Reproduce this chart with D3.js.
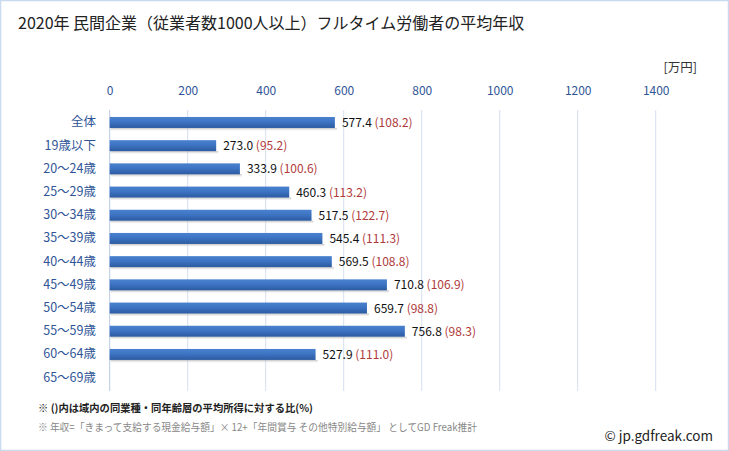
<!DOCTYPE html>
<html><head><meta charset="utf-8">
<script src="https://cdn.jsdelivr.net/npm/d3@7"></script>
<style>body{margin:0;background:#fff}svg{display:block}</style>
</head><body>
<script>
const categories = ["全体","19歳以下","20～24歳","25～29歳","30～34歳","35～39歳","40～44歳","45～49歳","50～54歳","55～59歳","60～64歳","65～69歳"];
const values = [577.4,273.0,333.9,460.3,517.5,545.4,569.5,710.8,659.7,756.8,527.9,null];
const ratios = [108.2,95.2,100.6,113.2,122.7,111.3,108.8,106.9,98.8,98.3,111.0,null];
const ticks = [0,200,400,600,800,1000,1200,1400];
const title = "2020年 民間企業（従業者数1000人以上）フルタイム労働者の平均年収";
const unit = "[万円]";
const note1 = "※ ()内は域内の同業種・同年齢層の平均所得に対する比(%)";
const note2 = "※ 年収=「きまって支給する現金給与額」× 12+「年間賞与 その他特別給与額」 としてGD Freak推計";
const credit = "© jp.gdfreak.com";

const W=729,H=451;
const font = "'Noto Sans CJK JP','Noto Sans',sans-serif";
const svg = d3.select("body").append("svg").attr("width",W).attr("height",H);
const defs = svg.append("defs");
const g1 = defs.append("linearGradient").attr("id","bar").attr("x1",0).attr("y1",0).attr("x2",0).attr("y2",1);
g1.append("stop").attr("offset","0").attr("stop-color","#4a82cf");
g1.append("stop").attr("offset","0.45").attr("stop-color","#3d74c3");
g1.append("stop").attr("offset","1").attr("stop-color","#2c5aa0");
const sh = defs.append("linearGradient").attr("id","sh").attr("x1",0).attr("y1",0).attr("x2",0).attr("y2",1);
sh.append("stop").attr("offset","0").attr("stop-color","#999").attr("stop-opacity",0.6);
sh.append("stop").attr("offset","1").attr("stop-color","#ccc").attr("stop-opacity",0);

svg.append("rect").attr("x",0.5).attr("y",0.5).attr("width",W-1).attr("height",H-1)
  .attr("fill","#fff").attr("stroke","#c9d9ee").attr("stroke-width",1.5);

svg.append("text").attr("x",18).attr("y",29).attr("font-family",font).attr("font-size",16)
  .attr("fill","#222").text(title);

const x = d3.scaleLinear().domain([0,1400]).range([109.7,655.7]);
const y = d3.scaleBand().domain(categories).range([110,390.1]).paddingInner(0.526).paddingOuter(0.3);

// gridlines
svg.append("g").selectAll("line").data(ticks).join("line")
  .attr("x1",d=>x(d)).attr("x2",d=>x(d)).attr("y1",110).attr("y2",391)
  .attr("stroke",d=>d===0?"#b9cbe4":"#d3dff0").attr("stroke-width",1);

// axis
const axis = d3.axisTop(x).tickValues(ticks).tickFormat(d3.format("d")).tickSize(0).tickPadding(0);
const ag = svg.append("g").attr("transform","translate(0,95)").call(axis);
ag.select(".domain").remove();
ag.selectAll("text").attr("font-family",font).attr("font-size",12).attr("fill","#2f5597");

svg.append("text").attr("x",697).attr("y",72).attr("text-anchor","end")
  .attr("font-family",font).attr("font-size",12.5).attr("fill","#333").text(unit);

// category labels
const yl = d3.axisLeft(y).tickSize(0).tickPadding(0);
const yg = svg.append("g").attr("transform","translate(96,0)").call(yl);
yg.select(".domain").remove();
yg.selectAll("text").attr("font-family",font).attr("font-size",12.5).attr("fill","#2f5597");

const data = categories.map((c,i)=>({c,v:values[i],r:ratios[i]})).filter(d=>d.v!=null);
// shadows
svg.append("g").selectAll("rect").data(data).join("rect")
  .attr("x",x(0)+1).attr("y",d=>y(d.c)+y.bandwidth()).attr("width",d=>x(d.v)-x(0)+1).attr("height",3)
  .attr("fill","url(#sh)");
svg.append("g").selectAll("rect").data(data).join("rect")
  .attr("x",x(0)).attr("y",d=>y(d.c)).attr("width",d=>x(d.v)-x(0)).attr("height",y.bandwidth())
  .attr("fill","url(#bar)");

const lab = svg.append("g").selectAll("text").data(data).join("text")
  .attr("x",d=>x(d.v)+7).attr("y",d=>y(d.c)+y.bandwidth()/2+4.5)
  .attr("font-family",font).attr("font-size",12);
lab.append("tspan").attr("fill","#111").text(d=>d.v.toFixed(1)+" ");
lab.append("tspan").attr("fill","#b03a3a").text(d=>"("+d.r.toFixed(1)+")");

svg.append("text").attr("x",38).attr("y",412).attr("font-family",font).attr("font-size",10.5)
  .attr("font-weight","bold").attr("fill","#222").attr("textLength",275).attr("lengthAdjust","spacingAndGlyphs").text(note1);
svg.append("text").attr("x",38).attr("y",431).attr("font-family",font).attr("font-size",10.5)
  .attr("fill","#888").attr("textLength",439).attr("lengthAdjust","spacingAndGlyphs").text(note2);
svg.append("text").attr("x",713).attr("y",441).attr("text-anchor","end").attr("font-family",font)
  .attr("font-size",13.5).attr("fill","#222").text(credit);
</script>
</body></html>
